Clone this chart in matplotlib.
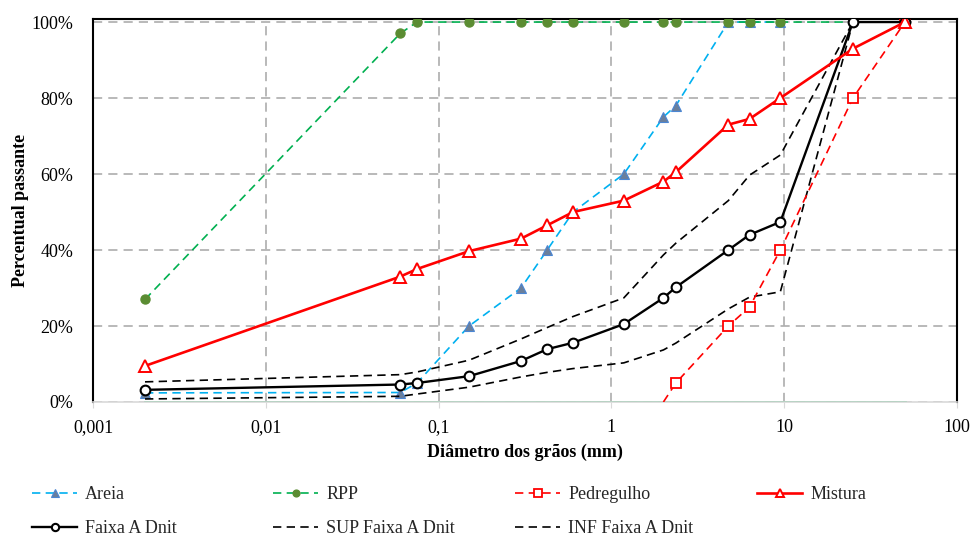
import numpy as np
import matplotlib
matplotlib.use("Agg")
import matplotlib.pyplot as plt
from matplotlib.ticker import FuncFormatter, FixedLocator, NullLocator

# sieve openings (mm) and percent passing
sizes = [0.002, 0.06, 0.075, 0.15, 0.3, 0.425, 0.6, 1.18, 2.0, 2.36, 4.75, 6.3, 9.5, 25, 50]

areia_x = [0.002, 0.06, 0.075, 0.15, 0.3, 0.425, 0.6, 1.18, 2.0, 2.36, 4.75, 6.3, 9.5]
areia = [2.4, 2.5, 5, 20, 30, 40, 50, 60, 75, 78, 100, 100, 100]

rpp_x = [0.002, 0.06, 0.075, 0.15, 0.3, 0.425, 0.6, 1.18, 2.0, 2.36, 4.75, 6.3, 9.5, 25]
rpp = [27, 97, 100, 100, 100, 100, 100, 100, 100, 100, 100, 100, 100, 100]

pedregulho_x = [2.0, 2.36, 4.75, 6.3, 9.5, 25, 50]
pedregulho = [0, 5, 20, 25, 40, 80, 100]

mistura = [9.5, 33, 35, 39.7, 43, 46.5, 50, 53, 58, 60.5, 73, 74.5, 80, 93, 100]
faixa_a = [3.2, 4.6, 5, 6.8, 10.8, 13.9, 15.6, 20.5, 27.4, 30.2, 40, 44, 47.4, 100, 100]
sup_faixa = [5.3, 7.2, 7.9, 11, 16.6, 19.6, 22.5, 27.4, 38.7, 41.8, 53, 59.7, 65, 100, 100]
inf_faixa = [0.8, 1.5, 2.1, 3.9, 6.6, 7.8, 8.8, 10.3, 13.7, 15.5, 24.5, 27.6, 29, 100, 100]

base_x = [0.002, 50]
base = [0, 0]

x_ticks = [0.001, 0.01, 0.1, 1, 10, 100]
x_tick_labels = ['0,001', '0,01', '0,1', '1', '10', '100']
y_ticks = [0, 20, 40, 60, 80, 100]

plt.rcParams['font.family'] = ['Liberation Serif', 'DejaVu Serif']
plt.rcParams['font.size'] = 13

fig = plt.figure(figsize=(9.73, 5.4), dpi=100)
ax = fig.add_axes([93 / 973, 1 - 402 / 540, (957 - 93) / 973, (402 - 19) / 540])

dash = (0, (5, 3.2))

ax.plot(base_x, base, color='#00b050', lw=2, zorder=2)
l_areia, = ax.plot(areia_x, areia, color='#00b0f0', lw=1.2, ls=dash, marker='^', ms=7,
                   mfc='#6a7f9c', mec='#4a86d4', mew=0.8, label='Areia', zorder=3)
l_rpp, = ax.plot(rpp_x, rpp, color='#00b050', lw=1.2, ls=dash, marker='o', ms=6.5,
                 mfc='#5b8c32', mec='#5b8c32', label='RPP', zorder=3)
l_ped, = ax.plot(pedregulho_x, pedregulho, color='#ff0000', lw=1.2, ls=dash, marker='s', ms=7,
                 mfc='white', mec='#ff0000', mew=1.3, markevery=list(range(1, len(pedregulho))),
                 label='Pedregulho', zorder=4)
l_sup, = ax.plot(sizes, sup_faixa, color='black', lw=1.2, ls=dash, label='SUP Faixa A Dnit', zorder=3)
l_inf, = ax.plot(sizes, inf_faixa, color='black', lw=1.2, ls=dash, label='INF Faixa A Dnit', zorder=3)
l_faixa, = ax.plot(sizes, faixa_a, color='black', lw=1.7, marker='o', ms=7,
                   mfc='white', mec='black', mew=1.5, label='Faixa A Dnit', zorder=5)
l_mist, = ax.plot(sizes, mistura, color='#ff0000', lw=1.9, marker='^', ms=8.5,
                  mfc='white', mec='#ff0000', mew=1.4, label='Mistura', zorder=6)

ax.set_xscale('log')
ax.set_xlim(0.001, 100)
ax.set_ylim(0, 100.8)
ax.xaxis.set_major_locator(FixedLocator(x_ticks))
ax.xaxis.set_minor_locator(NullLocator())
ax.set_xticklabels(x_tick_labels)
ax.set_yticks(y_ticks)
ax.yaxis.set_major_formatter(FuncFormatter(lambda v, p: f'{v:.0f}%'))

ax.grid(True, which='major', color='#a6a6a6', lw=1.1, ls=(0, (6, 4)))
ax.set_axisbelow(True)

for side in ['left', 'top', 'right']:
    ax.spines[side].set_color('black')
    ax.spines[side].set_linewidth(1.5)
ax.spines['bottom'].set_color('#d9d9d9')
ax.spines['bottom'].set_linewidth(1.2)
ax.tick_params(axis='x', length=4, color='#d9d9d9', pad=8, labelsize=13)
ax.tick_params(axis='y', length=0, pad=14, labelsize=13)

ax.set_xlabel('Diâmetro dos grãos (mm)', fontweight='bold', fontsize=13, labelpad=6)
ax.set_ylabel('Percentual passante', fontweight='bold', fontsize=13, labelpad=2)

# legend laid out in fixed-width columns like the spreadsheet chart
columns = [[l_areia, l_faixa], [l_rpp, l_sup], [l_ped, l_inf], [l_mist]]
col_x = [32, 273, 515, 757]
for handles, cx in zip(columns, col_x):
    leg = fig.legend(handles=handles, loc='upper left',
                     bbox_to_anchor=(cx / 973, 1 - 486 / 540), frameon=False,
                     handlelength=2.5, handletextpad=0.45, labelspacing=0.95,
                     borderpad=0, borderaxespad=0, fontsize=13, markerscale=0.75)
    for txt in leg.get_texts():
        txt.set_color('#262626')

fig.savefig('out.png', dpi=100)
